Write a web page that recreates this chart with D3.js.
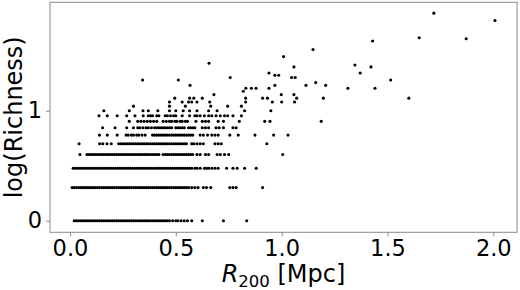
<!DOCTYPE html>
<html>
<head>
<meta charset="utf-8">
<script src="https://cdn.jsdelivr.net/npm/d3@7"></script>
<style>
  html, body { margin: 0; padding: 0; background: #fff; }
  svg { display: block; }
  text { font-family: "DejaVu Sans", sans-serif; fill: #000; }
</style>
</head>
<body>
<svg id="chart" width="520" height="290"></svg>
<script>
// ---- Data: R200 [Mpc] values for each richness level ----
const richnessLevels = [1, 2, 3, 4, 5, 6, 7, 8, 9, 10, 11, 12, 13, 14, 15, 16, 17, 18, 19, 20, 21, 22, 25, 26, 27, 31, 36, 43, 45, 46, 66, 77];

const r200_n1 = [0.02,0.03,0.04,0.05,0.06,0.07,0.08,0.09,0.10,0.11,0.12,0.13,0.14,0.15,0.16,0.17,0.18,0.19,0.20,0.21,0.22,0.23,0.24,0.25,0.26,0.27,0.28,0.29,0.30,0.31,0.32,0.33,0.34,0.35,0.36,0.37,0.38,0.39,0.40,0.41,0.42,0.43,0.44,0.45,0.46,0.47,0.485,0.50,0.51,0.525,0.54,0.555,0.575,0.625,0.725,0.835];
const r200_n2 = [0.01,0.02,0.03,0.04,0.05,0.06,0.07,0.08,0.09,0.10,0.11,0.12,0.13,0.14,0.15,0.16,0.17,0.18,0.19,0.20,0.21,0.22,0.23,0.24,0.25,0.26,0.27,0.28,0.29,0.30,0.31,0.32,0.33,0.34,0.35,0.36,0.37,0.38,0.39,0.40,0.41,0.42,0.43,0.44,0.45,0.46,0.47,0.48,0.49,0.50,0.51,0.52,0.53,0.54,0.55,0.56,0.575,0.59,0.605,0.63,0.645,0.665,0.755,0.77,0.785,0.91];
const r200_n3 = [0.015,0.025,0.035,0.045,0.055,0.065,0.075,0.085,0.095,0.105,0.115,0.125,0.135,0.145,0.155,0.165,0.175,0.185,0.195,0.205,0.215,0.225,0.235,0.245,0.255,0.265,0.275,0.285,0.295,0.305,0.315,0.325,0.335,0.345,0.355,0.365,0.375,0.385,0.395,0.405,0.415,0.425,0.435,0.445,0.455,0.465,0.475,0.485,0.495,0.505,0.515,0.525,0.535,0.545,0.555,0.565,0.575,0.59,0.60,0.615,0.635,0.645,0.655,0.67,0.685,0.70,0.74,0.77,0.79,0.825,0.88];
const r200_n4 = [0.047,0.08,0.09,0.10,0.11,0.12,0.13,0.14,0.15,0.16,0.17,0.18,0.19,0.20,0.21,0.22,0.23,0.24,0.25,0.26,0.27,0.28,0.29,0.30,0.31,0.32,0.33,0.34,0.35,0.36,0.37,0.38,0.39,0.40,0.41,0.42,0.44,0.45,0.46,0.47,0.48,0.49,0.50,0.51,0.52,0.53,0.54,0.55,0.56,0.57,0.58,0.60,0.615,0.64,0.655,0.695,0.71,0.73,0.75,1.005];
const r200_n5 = [0.043,0.14,0.155,0.175,0.195,0.23,0.24,0.25,0.26,0.27,0.28,0.29,0.30,0.31,0.32,0.33,0.34,0.35,0.36,0.37,0.38,0.39,0.40,0.41,0.42,0.43,0.44,0.45,0.46,0.47,0.48,0.49,0.50,0.51,0.52,0.53,0.54,0.55,0.575,0.585,0.60,0.615,0.63,0.685,0.70,0.715,0.93];
const r200_n6 = [0.139,0.176,0.223,0.265,0.275,0.29,0.30,0.315,0.325,0.34,0.355,0.39,0.40,0.41,0.42,0.43,0.44,0.45,0.46,0.47,0.48,0.49,0.50,0.51,0.52,0.53,0.54,0.55,0.56,0.57,0.58,0.615,0.63,0.65,0.67,0.685,0.70,0.755,0.795,0.874,0.962,1.03];
const r200_n7 = [0.154,0.213,0.268,0.30,0.32,0.33,0.345,0.36,0.37,0.385,0.40,0.41,0.42,0.43,0.44,0.45,0.46,0.47,0.48,0.50,0.51,0.52,0.53,0.54,0.56,0.57,0.58,0.59,0.625,0.64,0.655,0.69,0.705,0.725,0.77,0.785];
const r200_n8 = [0.28,0.32,0.335,0.35,0.365,0.38,0.395,0.41,0.44,0.455,0.47,0.48,0.495,0.505,0.52,0.53,0.545,0.555,0.595,0.625,0.64,0.655,0.70,0.725,0.80,0.92,0.945,1.187];
const r200_n9 = [0.137,0.176,0.223,0.268,0.307,0.346,0.37,0.38,0.39,0.41,0.42,0.45,0.46,0.475,0.49,0.50,0.53,0.565,0.59,0.60,0.615,0.635,0.655,0.67,0.69,0.71,0.73,0.745,0.77,0.81];
const r200_n10 = [0.16,0.28,0.345,0.37,0.415,0.47,0.50,0.535,0.565,0.60,0.655,0.695,0.825,0.949];
const r200_n11 = [0.30,0.47,0.545,0.665,0.745,0.81];
const r200_n12 = [0.47,0.53,0.56,0.575,0.60,0.66,0.83,0.956,1.0,1.061];
const r200_n13 = [0.495,0.565,0.585,0.625,0.83,0.91,0.933,1.071,1.197,1.601];
const r200_n14 = [0.68,0.998,1.058];
const r200_n15 = [0.819];
const r200_n16 = [0.831,0.857,0.879,0.94,1.313,1.441];
const r200_n17 = [0.567,0.968,1.115,1.208];
const r200_n18 = [1.161];
const r200_n19 = [0.343,0.512,1.515];
const r200_n20 = [0.757,1.047,1.064];
const r200_n21 = [0.968,0.986];
const r200_n22 = [0.940,1.371];
const r200_n25 = [1.058,1.422];
const r200_n26 = [1.346];
const r200_n27 = [0.657];
const r200_n31 = [1.009];
const r200_n36 = [1.148];
const r200_n43 = [1.430];
const r200_n45 = [1.872];
const r200_n46 = [1.650];
const r200_n66 = [2.008];
const r200_n77 = [1.719];

const r200ByLevel = [r200_n1, r200_n2, r200_n3, r200_n4, r200_n5, r200_n6, r200_n7, r200_n8, r200_n9, r200_n10,
  r200_n11, r200_n12, r200_n13, r200_n14, r200_n15, r200_n16, r200_n17, r200_n18, r200_n19, r200_n20,
  r200_n21, r200_n22, r200_n25, r200_n26, r200_n27, r200_n31, r200_n36, r200_n43, r200_n45, r200_n46, r200_n66, r200_n77];

const xTicks = [0, 0.5, 1.0, 1.5, 2.0];
const yTicks = [0, 1];

// ---- Build point table ----
const points = [];
richnessLevels.forEach((n, i) => {
  r200ByLevel[i].forEach(r => points.push({ r200: r, logRich: Math.log10(n) }));
});

// ---- Layout ----
const svg = d3.select("#chart");
const L = 50, R = 517, T = 2.3, B = 232.3;

const x = d3.scaleLinear().domain([-0.0945, 2.112]).range([L, R]);
const y = d3.scaleLinear().domain([-0.105, 1.985]).range([B, T]);

// Points
svg.append("g")
  .selectAll("circle")
  .data(points)
  .join("circle")
  .attr("cx", d => x(d.r200))
  .attr("cy", d => y(d.logRich))
  .attr("r", 1.55)
  .attr("fill", "#000");

// Frame
svg.append("rect")
  .attr("x", L).attr("y", T)
  .attr("width", R - L).attr("height", B - T)
  .attr("fill", "none")
  .attr("stroke", "#8a8a8a")
  .attr("stroke-width", 1);

// X axis
const gx = svg.append("g")
  .attr("transform", `translate(0,${B})`)
  .call(d3.axisBottom(x).tickValues(xTicks).tickFormat(d3.format(".1f")).tickSize(4).tickPadding(4));
gx.select(".domain").remove();
gx.selectAll(".tick line").attr("stroke", "#8a8a8a");
gx.selectAll(".tick text")
  .attr("font-size", 22.5)
  .attr("font-family", "DejaVu Sans")
  .attr("fill", "#000");

// Y axis
const gy = svg.append("g")
  .attr("transform", `translate(${L},0)`)
  .call(d3.axisLeft(y).tickValues(yTicks).tickFormat(d3.format("d")).tickSize(4).tickPadding(4));
gy.select(".domain").remove();
gy.selectAll(".tick line").attr("stroke", "#8a8a8a");
gy.selectAll(".tick text")
  .attr("font-size", 22.5)
  .attr("font-family", "DejaVu Sans")
  .attr("fill", "#000");

// X label: R_200 [Mpc]
const xl = svg.append("text")
  .attr("x", (L + R) / 2)
  .attr("y", 282)
  .attr("text-anchor", "middle")
  .attr("font-size", 24);
xl.append("tspan").attr("font-style", "italic").text("R");
xl.append("tspan").attr("font-size", 16.5).attr("dy", 5).text("200");
xl.append("tspan").attr("dy", -5).text("\u00a0[Mpc]");

// Y label
svg.append("text")
  .attr("transform", `translate(21.5,${(T + B) / 2}) rotate(-90)`)
  .attr("text-anchor", "middle")
  .attr("font-size", 24)
  .text("log(Richness)");
</script>
</body>
</html>
